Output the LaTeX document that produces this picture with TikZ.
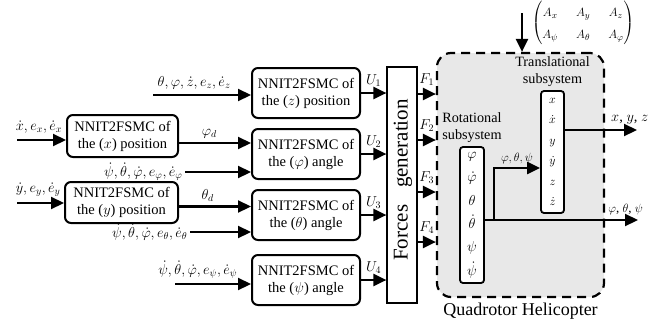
\documentclass[tikz,border=0pt]{standalone}
\usepackage{amsmath}
\usepackage{fontspec}
\setmainfont{Liberation Serif}
\usetikzlibrary{arrows.meta,positioning}

\begin{document}
\begin{tikzpicture}[
    x=1pt, y=-1pt,
    >={Triangle[length=13pt,width=12pt]},
    ctrl/.style={
        draw,
        rounded corners=6pt,
        line width=2pt,
        align=center,
        minimum width=108pt,
        minimum height=50pt,
        inner sep=1pt,
        font=\fontsize{14.5}{17}\selectfont
    },
    arrow/.style={
        ->,
        line width=2.2pt
    },
    siglabel/.style={
        font=\fontsize{14.5}{16}\selectfont,
        inner sep=1.5pt
    },
    vecbox/.style={
        draw,
        fill=white,
        rounded corners=3pt,
        line width=1.8pt,
        align=center,
        inner sep=1pt
    },
    heli/.style={
        draw,
        fill=black!9,
        dash pattern=on 9pt off 6pt,
        line width=2.2pt,
        rounded corners=14pt
    }
    ]

    \useasboundingbox (0,0) rectangle (659,327);

    \node[heli, minimum width=167pt, minimum height=244pt] (heli) at (520.5,175) {};
    \node[below=1pt of heli, font=\fontsize{18}{20}\selectfont] (helilabel)
    {Quadrotor Helicopter};

    \node[ctrl] (zpos) at (306,93)
    {NNIT2FSMC of\\the ($z$) position};
    \node[ctrl, below=9pt of zpos] (phiang)
    {NNIT2FSMC of\\the ($\varphi$) angle};
    \node[ctrl, below=9pt of phiang] (thetaang)
    {NNIT2FSMC of\\the ($\theta$) angle};
    \node[ctrl, below=13pt of thetaang] (psiang)
    {NNIT2FSMC of\\the ($\psi$) angle};
    \node[ctrl, minimum width=111pt, minimum height=42pt] (xpos) at (122.5,136)
    {NNIT2FSMC of\\the ($x$) position};
    \node[ctrl, minimum width=113pt, minimum height=41pt] (ypos) at (121.5,202.5)
    {NNIT2FSMC of\\the ($y$) position};

    \node[draw, line width=1.2pt, minimum width=30pt, minimum height=236pt] (forces) at (402,185) {};
    \node[rotate=90, font=\fontsize{21}{24}\selectfont] (forcestext) at (403,180)
    {Forces\hspace{0.8em}generation};

    \node[vecbox, minimum width=24pt, minimum height=136pt,
        font=\fontsize{14}{23.4}\selectfont] (rot) at (472,215)
    {$\varphi$\\$\dot\varphi$\\$\theta$\\$\dot\theta$\\$\psi$\\$\dot\psi$};
    \node[vecbox, minimum width=23pt, minimum height=122pt,
        font=\fontsize{13}{20.5}\selectfont] (trans) at (552.5,152)
    {$x$\\$\dot x$\\$y$\\$\dot y$\\$z$\\$\dot z$};
    \node[above=0pt of rot, align=center, font=\fontsize{14.2}{17}\selectfont] (rotlabel)
    {Rotational\\subsystem};
    \node[above=0pt of trans, align=center, font=\fontsize{14.2}{17}\selectfont] (translabel)
    {Translational\\subsystem};

    \node[font=\fontsize{13}{15}\selectfont] (dist) at (583,23)
    {$\setlength{\arraycolsep}{9pt}\renewcommand{\arraystretch}{1.45}%
        \begin{pmatrix} A_x & A_y & A_z\\ A_\psi & A_\theta & A_\varphi \end{pmatrix}$};

    \coordinate (distin) at (522,13);
    \coordinate (zin) at (153,95);
    \coordinate (xin) at (17,140);
    \coordinate (phiin) at (185,172);
    \coordinate (yin) at (17,203);
    \coordinate (thetain) at (190,232);
    \coordinate (psiin) at (175,284);
    \coordinate (phid) at ([yshift=-7pt]xpos.east);
    \coordinate (thetad) at ([yshift=-4pt]ypos.east);
    \coordinate (xyzout) at (637,130);
    \coordinate (angout) at (638,220);
    \coordinate (branch) at (494,220);

    \draw[arrow] (distin) -- (distin |- heli.north);

    \draw[arrow] (zin) --
    node[siglabel, pos=0.42, above=3pt] {$\theta,\varphi,\dot z,e_z,\dot e_z$}
    (zin -| zpos.west);
    \draw[arrow] (xin) --
    node[siglabel, pos=0.45, above=4pt] {$\dot x,e_x,\dot e_x$}
    (xin -| xpos.west);
    \draw[arrow] (phid) --
    node[siglabel, pos=0.42, above=2pt] {$\varphi_d$}
    (phid -| phiang.west);
    \draw[arrow] (phiin)
    node[siglabel, left] {$\dot\psi,\dot\theta,\dot\varphi,e_\varphi,\dot e_\varphi$}
    -- (phiin -| phiang.west);
    \draw[arrow] (yin) --
    node[siglabel, pos=0.45, above=4pt] {$\dot y,e_y,\dot e_y$}
    (yin -| ypos.west);
    \draw[arrow] (thetad) --
    node[siglabel, pos=0.4, above=2pt] {$\theta_d$}
    (thetad -| thetaang.west);
    \draw[arrow] (thetain)
    node[siglabel, left] {$\dot\psi,\dot\theta,\dot\varphi,e_\theta,\dot e_\theta$}
    -- (thetain -| thetaang.west);
    \draw[arrow] (psiin) --
    node[siglabel, pos=0.3, above=3pt] {$\dot\psi,\dot\theta,\dot\varphi,e_\psi,\dot e_\psi$}
    (psiin -| psiang.west);

    \foreach \blk/\k in {zpos/1, phiang/2, thetaang/3, psiang/4}
    \draw[arrow] (\blk.east) --
    node[siglabel, above=4pt] {$U_{\k}$}
    (\blk.east -| forces.west);

    \foreach \k/\yy in {1/94, 2/140, 3/192, 4/242}
    \draw[arrow] (forces.east |- 0,\yy) --
    node[siglabel, above=6pt] {$F_{\k}$}
    (heli.west |- 0,\yy);

    \draw[arrow] (trans.east |- xyzout) --
    node[siglabel, pos=0.9, above=3pt] {$x$, $y$, $z$}
    (xyzout);
    \draw[arrow] (rot.east |- angout) --
    node[siglabel, font=\fontsize{13}{15}\selectfont, pos=0.92, above=3pt] {$\varphi$, $\theta$, $\psi$}
    (angout);
    \draw[arrow] (branch) |-
    node[siglabel, font=\fontsize{13}{15}\selectfont, pos=0.75, above=2pt] {$\varphi,\theta,\psi$}
    (trans.west |- 0,168);

\end{tikzpicture}
\end{document}
